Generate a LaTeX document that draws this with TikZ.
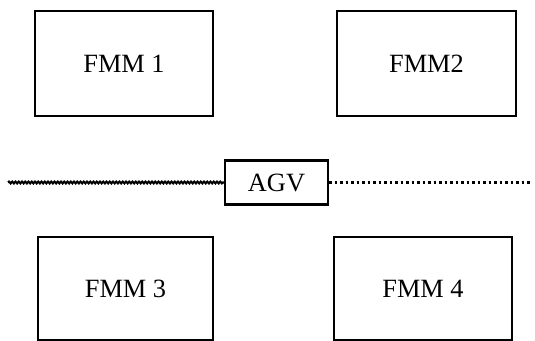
\documentclass[tikz,border=0pt]{standalone}
\usepackage{fontspec}
\setmainfont{Liberation Serif}
\usetikzlibrary{decorations.pathmorphing}

\begin{document}
\begin{tikzpicture}[
  cell/.style={rectangle, draw, line width=2.6pt, minimum width=7.1cm,
               minimum height=4.2cm, inner sep=0pt,
               font=\fontsize{30}{35}\selectfont},
  agv/.style={rectangle, draw, line width=2.4pt, minimum width=4.12cm,
              minimum height=1.76cm, inner sep=0pt,
              font=\fontsize{30}{35}\selectfont},
  track/.style={decorate, decoration={snake, amplitude=.35mm,
                segment length=1.3mm}, line width=2.4pt},
  guide/.style={line width=2.8pt, dash pattern=on 1mm off 1.2mm}
]
\useasboundingbox (0,0) rectangle (21.4,13.6);

\node[cell] (F1) at (4.96,11.06) {FMM 1};
\node[cell, minimum width=7.16cm] (F2) at (17.06,11.06) {FMM2};
\node[cell, minimum width=7.0cm, minimum height=4.12cm] (F3) at (5.02,2.06) {FMM 3};
\node[cell, minimum width=7.12cm, minimum height=4.12cm] (F4) at (16.92,2.06) {FMM 4};
\node[agv] (AGV) at (11.06,6.3) {AGV};

\coordinate (Lend) at (0.32,6.3);
\coordinate (Rend) at (21.2,6.3);

\draw[track] (Lend) -- (AGV.west);
\draw[guide] (AGV.east) -- (Rend);
\end{tikzpicture}
\end{document}
